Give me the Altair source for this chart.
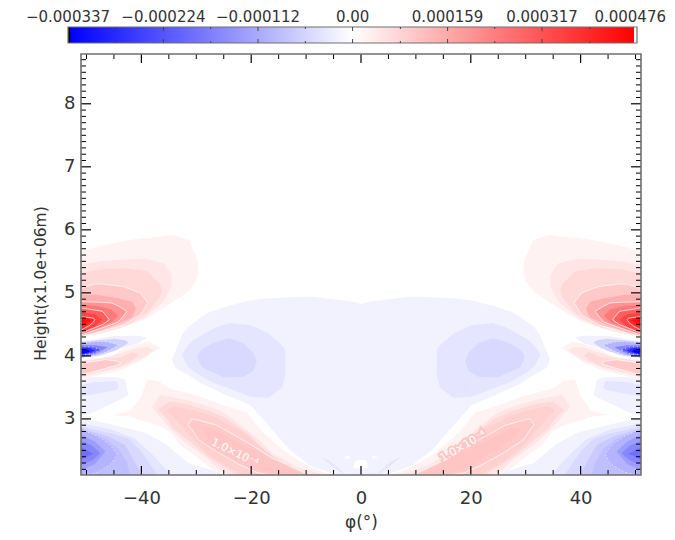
import altair as alt
import pandas as pd

# ---- axis ticks and labels -------------------------------------------------
X_MAJOR = [-40, -20, 0, 20, 40]
X_MINOR = [-50, -45, -35, -30, -25, -15, -10, -5, 5, 10, 15, 25, 30, 35, 45, 50]
Y_MAJOR = [3, 4, 5, 6, 7, 8]
Y_MINOR = [v / 10 for v in range(22, 88) if v % 10 != 0]
BAR_MAJOR = [-0.000337, -0.000224, -0.000112, 0.0, 0.000159, 0.000317, 0.000476]
BAR_MINOR = [-0.00028, -0.000168, -0.000056, 0.00008, 0.000238, 0.000397]
BAR_LABELS = ["\u22120.000337", "\u22120.000224", "\u22120.000112", "0.00", "0.000159", "0.000317", "0.000476"]

# ---- filled contour regions, left half: (phi, lower height, upper height) --
CENTRAL_1 = [(-34.4, 3.94, 3.95), (-33.9, 3.82, 4.05), (-32.6, 3.75, 4.33), (-31.5, 3.70, 4.46), (-29.3, 3.57, 4.60),
             (-27.5, 3.50, 4.70), (-23.9, 3.35, 4.80), (-20.2, 3.22, 4.88), (-17.2, 2.93, 4.91), (-13, 2.51, 4.93),
             (-9.3, 2.26, 4.94), (-8.7, 2.24, 4.94), (-5, 2.12, 4.90), (-1.4, 2.11, 4.86), (0, 2.11, 4.82)]
CENTRAL_2 = [(-32.6, 4.00, 4.02), (-31.7, 3.85, 4.15), (-30.6, 3.76, 4.25), (-28, 3.62, 4.38), (-26.2, 3.55, 4.46),
             (-23.9, 3.48, 4.52), (-20.2, 3.35, 4.49), (-16.9, 3.33, 4.36), (-14.4, 3.49, 4.17), (-13.8, 3.70, 4.10)]
CENTRAL_3 = [(-29.7, 3.95, 4.02), (-29, 3.82, 4.10), (-27, 3.74, 4.20), (-25, 3.66, 4.26), (-23.9, 3.66, 4.28),
             (-21.4, 3.67, 4.20), (-19.6, 3.76, 4.05), (-19, 3.91, 3.91)]
STREAK = [(-7.1, 2.39, 2.40), (-5.5, 2.27, 2.32), (-3.2, 2.12, 2.15)]
CENTRE_GAP = [(-1.4, 2.22, 2.22), (-1.0, 2.22, 2.34), (0, 2.20, 2.35)]
CENTRE_NICK = [(-3.1, 2.39, 2.39), (-2.1, 2.36, 2.42)]

UPPER_R = [
    (2.4e-5, [(-51, 4.30, 5.66), (-48.7, 4.33, 5.71), (-45.7, 4.39, 5.78), (-42.7, 4.47, 5.83), (-39.6, 4.57, 5.87),
              (-36.6, 4.73, 5.89), (-34.2, 4.86, 5.92), (-31.4, 5.02, 5.84), (-29.9, 5.21, 5.55), (-29.6, 5.37, 5.42)]),
    (4.8e-5, [(-51, 4.31, 5.45), (-47.5, 4.36, 5.50), (-43.9, 4.44, 5.52), (-39.6, 4.60, 5.55), (-36, 4.86, 5.47), (-34.5, 5.10, 5.29)]),
    (7.2e-5, [(-51, 4.32, 5.31), (-47.5, 4.39, 5.37), (-42.7, 4.49, 5.39), (-39, 4.68, 5.34), (-36.6, 4.94, 5.13), (-36.3, 5.03, 5.04)]),
    (1.0e-4, [(-51, 4.31, 5.07), (-48.5, 4.36, 5.14), (-46.9, 4.40, 5.14), (-43.3, 4.49, 5.10), (-40.2, 4.65, 5.00), (-38.9, 4.83, 4.85)]),
    (1.5e-4, [(-51, 4.32, 4.97), (-48.1, 4.39, 4.97), (-44.5, 4.50, 4.92), (-41.7, 4.61, 4.86), (-41, 4.74, 4.75)]),
    (2.0e-4, [(-51, 4.33, 4.86), (-47.3, 4.44, 4.85), (-45.4, 4.50, 4.84), (-44.2, 4.54, 4.79), (-43.6, 4.60, 4.76), (-42.7, 4.70, 4.71)]),
    (2.5e-4, [(-51, 4.34, 4.81), (-48, 4.44, 4.79), (-45.5, 4.53, 4.74), (-44.3, 4.63, 4.64)]),
    (3.0e-4, [(-51, 4.36, 4.76), (-47.3, 4.49, 4.71), (-47, 4.50, 4.70), (-45.9, 4.57, 4.58)]),
    (3.5e-4, [(-51, 4.38, 4.69), (-48.5, 4.46, 4.66), (-47.2, 4.57, 4.58)]),
    (4.0e-4, [(-51, 4.41, 4.62), (-49.7, 4.47, 4.61), (-48.8, 4.53, 4.60), (-48.5, 4.57, 4.58)]),
    (4.4e-4, [(-51, 4.46, 4.60), (-49.8, 4.53, 4.59), (-49.2, 4.56, 4.57)]),
    (4.7e-4, [(-51, 4.52, 4.58), (-50.3, 4.55, 4.56)]),
]
NARROW_R = [
    (2.4e-5, [(-51, 3.62, 3.94), (-47.3, 3.70, 3.97), (-45.4, 3.74, 4.00), (-43.6, 3.78, 4.10), (-40.6, 3.90, 4.19),
              (-39.4, 3.96, 4.21), (-38.5, 4.02, 4.23), (-36.6, 4.12, 4.13)]),
    (4.8e-5, [(-51, 3.66, 3.92), (-47.3, 3.74, 3.96), (-43.6, 3.82, 4.05), (-40.6, 3.93, 4.13), (-38.8, 4.02, 4.14), (-37.8, 4.08, 4.09)]),
    (7.2e-5, [(-51, 3.69, 3.90), (-47.3, 3.77, 3.95), (-43.6, 3.84, 3.98), (-41.6, 3.94, 4.06), (-40.6, 4.00, 4.01)]),
    (1.0e-4, [(-51, 3.71, 3.88), (-49.7, 3.725, 3.90), (-46.6, 3.80, 3.94), (-44.5, 3.85, 3.92), (-43.7, 3.88, 3.885)]),
]
NARROW_B = [
    (-2.0e-5, [(-51, 3.97, 4.23), (-47.9, 4.02, 4.27), (-45.4, 4.07, 4.31), (-44.2, 4.10, 4.315), (-40.6, 4.20, 4.32), (-39, 4.29, 4.295)]),
    (-6.0e-5, [(-51, 3.97, 4.22), (-47.9, 4.00, 4.25), (-44.8, 4.08, 4.27), (-43, 4.17, 4.25), (-42.4, 4.21, 4.215)]),
    (-1.0e-4, [(-51, 3.97, 4.20), (-47.9, 4.02, 4.23), (-46.3, 4.07, 4.22), (-44.8, 4.14, 4.19), (-44.2, 4.165, 4.17)]),
    (-1.6e-4, [(-51, 4.00, 4.17), (-48.5, 4.03, 4.17), (-46.3, 4.13, 4.14)]),
    (-2.2e-4, [(-51, 4.01, 4.15), (-48.8, 4.04, 4.14), (-47.5, 4.09, 4.10)]),
    (-2.8e-4, [(-51, 4.02, 4.13), (-49.4, 4.05, 4.12), (-48.5, 4.08, 4.09)]),
    (-3.3e-4, [(-51, 4.03, 4.11), (-50, 4.05, 4.10), (-49.4, 4.07, 4.08)]),
]
PATCH_B = [
    (-1.7e-5, [(-51, 3.06, 3.65), (-49.1, 3.09, 3.66), (-47.2, 3.17, 3.67), (-44.5, 3.28, 3.66), (-43, 3.34, 3.62), (-42.4, 3.38, 3.40)]),
    (-3.4e-5, [(-51, 3.36, 3.54), (-48.7, 3.39, 3.58), (-44.5, 3.46, 3.60), (-44.2, 3.50, 3.52)]),
]
LOWER_B = [
    (-1.7e-5, [(-51, 2.11, 3.00), (-48.8, 2.11, 2.98), (-44.8, 2.11, 2.90), (-39.4, 2.11, 2.78), (-35.7, 2.11, 2.61), (-31.5, 2.11, 2.30), (-28, 2.11, 2.21), (-24, 2.11, 2.11)]),
    (-3.4e-5, [(-51, 2.11, 2.93), (-45.4, 2.11, 2.83), (-41.2, 2.11, 2.69), (-38.2, 2.11, 2.45), (-34.8, 2.11, 2.13)]),
    (-5.0e-5, [(-51, 2.11, 2.88), (-45.4, 2.11, 2.77), (-42.4, 2.11, 2.69), (-40, 2.11, 2.48), (-37.2, 2.11, 2.13)]),
    (-7.0e-5, [(-51, 2.11, 2.85), (-46, 2.11, 2.72), (-43, 2.11, 2.59), (-41.2, 2.11, 2.32), (-40, 2.11, 2.12)]),
    (-8.5e-5, [(-51, 2.11, 2.83), (-46.6, 2.11, 2.69), (-44.2, 2.11, 2.53), (-42.7, 2.11, 2.32), (-42.1, 2.11, 2.12)]),
    (-1.0e-4, [(-51, 2.11, 2.85), (-50, 2.11, 2.80), (-47.9, 2.16, 2.72), (-46, 2.26, 2.61), (-45.4, 2.30, 2.55), (-44.5, 2.43, 2.44)]),
    (-1.3e-4, [(-51, 2.19, 2.75), (-48.5, 2.28, 2.64), (-46.6, 2.48, 2.49)]),
    (-1.6e-4, [(-51, 2.27, 2.65), (-49, 2.34, 2.58), (-47.5, 2.45, 2.46)]),
    (-1.9e-4, [(-51, 2.35, 2.55), (-49.5, 2.42, 2.48), (-48.8, 2.44, 2.45)]),
]
LOWER_R = [
    (2.4e-5, [(-44.8, 3.06, 3.07), (-42, 3.04, 3.12), (-40, 2.98, 3.36), (-39, 2.95, 3.62), (-37, 2.90, 3.60), (-34.8, 2.80, 3.48),
              (-33, 2.59, 3.44), (-30, 2.40, 3.37), (-27, 2.19, 3.28), (-24.5, 2.11, 3.20), (-20.8, 2.11, 3.10),
              (-17.8, 2.11, 2.78), (-13.5, 2.11, 2.46), (-9.3, 2.11, 2.24), (-5.7, 2.11, 2.12)]),
    (4.8e-5, [(-38.1, 3.19, 3.20), (-36.6, 3.04, 3.38), (-34.8, 2.85, 3.35), (-31.8, 2.61, 3.30), (-28.1, 2.38, 3.21), (-25.7, 2.19, 3.13),
              (-23.9, 2.11, 3.04), (-18.4, 2.11, 2.65), (-16.2, 2.11, 2.46), (-12, 2.11, 2.25), (-7.5, 2.11, 2.13)]),
    (7.2e-5, [(-36.9, 3.14, 3.15), (-35.1, 2.98, 3.27), (-34.2, 2.85, 3.27), (-31.2, 2.64, 3.22), (-27.5, 2.38, 3.12), (-24.5, 2.22, 3.01),
              (-22.7, 2.11, 2.90), (-20, 2.11, 2.72), (-16.2, 2.11, 2.38), (-12, 2.11, 2.18), (-9, 2.11, 2.12)]),
    (8.8e-5, [(-35.4, 3.12, 3.13), (-34.2, 3.04, 3.20), (-29.9, 2.61, 3.12), (-26.9, 2.38, 3.04), (-23.9, 2.22, 2.90), (-22, 2.13, 2.82),
              (-20, 2.11, 2.68), (-16, 2.11, 2.40), (-12, 2.11, 2.20), (-9.5, 2.11, 2.12)]),
    (1.0e-4, [(-31.5, 2.90, 2.91), (-30.8, 2.83, 3.00), (-29.6, 2.67, 2.98), (-26.3, 2.48, 2.90), (-22, 2.27, 2.69), (-18.7, 2.14, 2.52),
              (-16.2, 2.11, 2.38), (-14.1, 2.11, 2.30), (-10.2, 2.11, 2.14)]),
    (1.1e-4, [(-29, 2.83, 2.84), (-27.5, 2.69, 2.85), (-23.9, 2.48, 2.69), (-18.4, 2.19, 2.45), (-14, 2.11, 2.24), (-11, 2.11, 2.13)]),
]
CENTRE = [(-1.7e-5, CENTRAL_1), (-3.4e-5, CENTRAL_2), (-5.0e-5, CENTRAL_3), (-3.4e-5, STREAK),
          (0.0, CENTRE_GAP), (0.0, CENTRE_NICK)]
CONTOUR_LEVELS = [1.0e-4, 2.0e-4, 3.0e-4, 4.0e-4, -1.0e-4, -2.2e-4]
LABEL_PHI = [-23.0, 18.6]
LABEL_H = [2.46, 2.56]
LABEL_ANGLE = [26, 330]
LABEL_TEXT = ["1.0\u00d710\u207b\u2074", "1.0\u00d710\u207b\u2074"]

rows = []
band_no = 0
for group in [CENTRE, LOWER_B, LOWER_R, PATCH_B, UPPER_R, NARROW_R, NARROW_B]:
    for value, pts in group:
        band_no += 1
        if pts[-1][0] == 0:
            sides = [pts + [(-p, lo, hi) for p, lo, hi in pts[-2::-1]]]
        else:
            sides = [pts, [(-p, lo, hi) for p, lo, hi in pts]]
        for s, side in enumerate(sides):
            for p, lo, hi in side:
                rows.append({"band": band_no * 2 + s, "phi": p, "lo": lo, "hi": hi, "v": value,
                             "line": value in CONTOUR_LEVELS})
df = pd.DataFrame(rows)

W, H = 560, 421
XS = alt.Scale(domain=[-51, 51], nice=False, zero=False)
YS = alt.Scale(domain=[2.11, 8.79], nice=False, zero=False)
BS = alt.Scale(domain=[-0.000337, 0, 0.000476], range=[-13, 271.6, 556])
CS = alt.Scale(domain=[-0.000337, 0, 0.000476], range=["#0000ff", "#ffffff", "#ff0000"], interpolate="rgb")
FONT = "DejaVu Sans"
INK = "#333333"

fill = alt.Chart(df).mark_area(clip=True, interpolate="linear").encode(
    x=alt.X("phi:Q", scale=XS, axis=alt.Axis(values=X_MAJOR, title="\u03c6(\u00b0)", grid=False, ticks=False, domain=False,
                                              labelFont=FONT, labelFontSize=18, labelColor=INK, labelPadding=14,
                                              titleFont=FONT, titleFontSize=17, titleFontWeight="normal", titleColor=INK,
                                              titlePadding=7)),
    y=alt.Y("lo:Q", scale=YS, axis=alt.Axis(values=Y_MAJOR, title="Height(x1.0e+06m)", grid=False, ticks=False, domain=False,
                                             labelFont=FONT, labelFontSize=18, labelColor=INK, labelPadding=6,
                                             titleFont=FONT, titleFontSize=15.5, titleFontWeight="normal", titleColor=INK,
                                             titlePadding=15, titleY=229)),
    y2="hi:Q",
    detail="band:N",
    color=alt.Color("v:Q", scale=CS, legend=None),
)
def contour(dash, cond):
    kw = {"strokeDash": dash} if dash else {}
    return alt.Chart(df[cond]).mark_area(clip=True, fillOpacity=0, stroke="#ffffff", strokeWidth=0.8, opacity=0.9, **kw).encode(
        x=alt.X("phi:Q", scale=XS, axis=None), y=alt.Y("lo:Q", scale=YS, axis=None), y2="hi:Q", detail="band:N")
solid = contour(None, df["line"] & (df["v"] > 0))
dotted = contour([1, 3], df["line"] & (df["v"] < 0))

labels = pd.DataFrame({"phi": LABEL_PHI, "h": LABEL_H, "a": LABEL_ANGLE, "t": LABEL_TEXT})
def label_layer(**kw):
    return alt.Chart(labels).mark_text(font=FONT, fontSize=11, **kw).encode(
        x=alt.X("phi:Q", scale=XS, axis=None), y=alt.Y("h:Q", scale=YS, axis=None),
        angle=alt.Angle("a:Q", scale=None), text="t:N")
lab_halo = label_layer(stroke="#ffc6c6", strokeWidth=4, fill="#ffc6c6")
lab_text = label_layer(fill="#ffffff")

def xticks(vals, y0, y1, w):
    return alt.Chart(pd.DataFrame({"x": vals})).mark_rule(color="#000000", strokeWidth=w).encode(
        x=alt.X("x:Q", scale=XS, axis=None), y=alt.value(y0), y2=alt.value(y1))
def yticks(vals, x0, x1, w):
    return alt.Chart(pd.DataFrame({"y": vals})).mark_rule(color="#000000", strokeWidth=w).encode(
        y=alt.Y("y:Q", scale=YS, axis=None), x=alt.value(x0), x2=alt.value(x1))
ticks = [xticks(X_MAJOR, H, H - 9, 1.2), xticks(X_MINOR, H, H - 5, 1), xticks(X_MAJOR, 0, 9, 1.2), xticks(X_MINOR, 0, 5, 1),
         yticks(Y_MAJOR, 0, 10, 1.2), yticks(Y_MINOR, 0, 5, 1), yticks(Y_MAJOR, W, W - 10, 1.2), yticks(Y_MINOR, W, W - 5, 1)]

one = pd.DataFrame({"a": [0]})
frame = alt.Chart(one).mark_rect(fillOpacity=0, stroke="#707070", strokeWidth=1.6).encode(
    x=alt.value(0), x2=alt.value(W), y=alt.value(0), y2=alt.value(H))

bar_df = pd.DataFrame({"a": [BAR_MAJOR[0]], "b": [BAR_MAJOR[-1]]})
bar = alt.Chart(bar_df).mark_rect(
    stroke="#707070", strokeWidth=1.2,
    color=alt.Gradient(gradient="linear", x1=0, x2=1, y1=0, y2=0, stops=[
        alt.GradientStop(offset=0, color="#000000"), alt.GradientStop(offset=0.004, color="#000000"),
        alt.GradientStop(offset=0.0045, color="#0000ff"), alt.GradientStop(offset=0.5, color="#ffffff"),
        alt.GradientStop(offset=0.995, color="#ff0000"), alt.GradientStop(offset=0.9955, color="#ffffff"),
        alt.GradientStop(offset=1, color="#ffffff")])
).encode(x=alt.X("a:Q", scale=BS, axis=None), x2="b:Q", y=alt.value(-27), y2=alt.value(-11))
def bar_ticks(vals, y0, y1):
    return alt.Chart(pd.DataFrame({"v": vals})).mark_rule(color="#444444", strokeWidth=1).encode(
        x=alt.X("v:Q", scale=BS, axis=None), y=alt.value(y0), y2=alt.value(y1))
bar_t = [bar_ticks(BAR_MAJOR[1:-1], -27, -23), bar_ticks(BAR_MAJOR[1:-1], -15, -11),
         bar_ticks(BAR_MINOR, -27, -25), bar_ticks(BAR_MINOR, -13, -11)]
bar_text = alt.Chart(pd.DataFrame({"v": BAR_MAJOR[:-1], "t": BAR_LABELS[:-1]})).mark_text(
    font=FONT, fontSize=15, color=INK, baseline="alphabetic").encode(
    x=alt.X("v:Q", scale=BS, axis=None), y=alt.value(-32), text="t:N")
bar_text_last = alt.Chart(pd.DataFrame({"v": BAR_MAJOR[-1:], "t": BAR_LABELS[-1:]})).mark_text(
    font=FONT, fontSize=15, color=INK, baseline="alphabetic", align="right", dx=29).encode(
    x=alt.X("v:Q", scale=BS, axis=None), y=alt.value(-32), text="t:N")

chart = alt.layer(fill, solid, dotted, lab_halo, lab_text, *ticks, frame, bar, *bar_t, bar_text, bar_text_last).resolve_scale(
    x="independent", y="independent"
).properties(
    width=W, height=H,
    autosize=alt.AutoSizeParams(type="none"),
    padding={"left": 73, "top": 46, "right": 26, "bottom": 62},
).configure_view(stroke=None)

chart.save("out.html", embed_options={"renderer": "svg", "actions": False})
